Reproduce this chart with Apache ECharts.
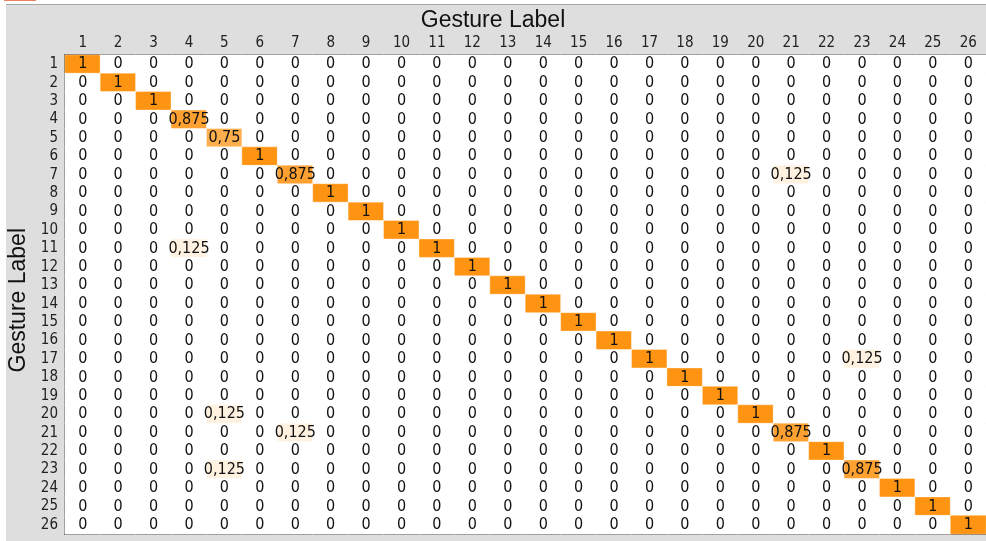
<!DOCTYPE html>
<html>
<head>
<meta charset="utf-8">
<script src="https://cdn.jsdelivr.net/npm/echarts@6/dist/echarts.min.js"></script>
<style>
html,body{margin:0;padding:0;background:#fff;}
#c{width:986px;height:541px;}
</style>
</head>
<body>
<div id="c"></div>
<script>
// Gesture labels (rows = true, columns = predicted)
const labels = ['1','2','3','4','5','6','7','8','9','10','11','12','13','14','15','16','17','18','19','20','21','22','23','24','25','26'];
// Diagonal values, gesture 1..26
const diagonal = [1,1,1,0.875,0.75,1,0.875,1,1,1,1,1,1,1,1,1,1,1,1,1,0.875,1,0.875,1,1,1];
// Off-diagonal non-zero cells: [row, column, value] (1-based gesture numbers)
const offDiagonal = [
  [7,21,0.125],
  [11,4,0.125],
  [17,23,0.125],
  [20,5,0.125],
  [21,7,0.125],
  [23,5,0.125]
];

const data = [];
for (let r = 0; r < labels.length; r++) {
  for (let c = 0; c < labels.length; c++) {
    let v = 0;
    if (r === c) v = diagonal[r];
    data.push([c, r, v]);
  }
}
offDiagonal.forEach(([r, c, v]) => {
  data[(r - 1) * labels.length + (c - 1)][2] = v;
});

const FONT = "'Liberation Sans Narrow','DejaVu Sans Condensed','Liberation Sans',sans-serif";
const chart = echarts.init(document.getElementById('c'), null, {renderer: 'canvas'});
chart.setOption({
  backgroundColor: '#dedede',
  animation: false,
  title: {
    text: 'Gesture Label',
    left: 'center',
    top: 4,
    textStyle: {fontFamily: "'Liberation Sans',sans-serif", fontSize: 23, fontWeight: 'normal', color: '#111'}
  },
  graphic: [
    {type: 'rect', left: 0, top: 0, shape: {width: 986, height: 4}, style: {fill: '#ffffff'}, silent: true},
    {type: 'rect', left: 0, top: 0, shape: {width: 6, height: 541}, style: {fill: '#ffffff'}, silent: true},
    {type: 'rect', left: 6, top: 4, shape: {width: 980, height: 1}, style: {fill: '#a8a8a8'}, silent: true},
    {type: 'rect', left: 4, top: 0, shape: {width: 32, height: 1}, style: {fill: '#f08060'}, silent: true},
    {type: 'text', left: 7, top: 228, rotation: Math.PI / 2,
      style: {text: 'Gesture Label', font: "23px 'Liberation Sans',sans-serif", fill: '#111'}}
  ],
  grid: {left: 65, top: 55, width: 923, height: 479, show: true, backgroundColor: '#ffffff', borderColor: '#555', borderWidth: 2},
  xAxis: {
    type: 'category', data: labels, position: 'top',
    axisLine: {show: false}, axisTick: {show: false}, splitLine: {show: false},
    axisLabel: {interval: 0, fontSize: 15, color: '#222', fontFamily: FONT, margin: 4}
  },
  yAxis: {
    type: 'category', data: labels, inverse: true,
    axisLine: {show: false}, axisTick: {show: false}, splitLine: {show: false},
    axisLabel: {interval: 0, fontSize: 15, color: '#222', fontFamily: FONT, margin: 7}
  },
  visualMap: {show: false, min: 0, max: 1, inRange: {color: ['#ffffff', '#ff9412']}},
  series: [{
    type: 'heatmap',
    data: data,
    itemStyle: {borderColor: 'rgba(255,255,255,0.35)', borderWidth: 1},
    label: {
      show: true, fontSize: 16, color: '#111', fontFamily: FONT,
      formatter: p => String(p.value[2]).replace('.', ',')
    }
  }]
});
</script>
</body>
</html>
